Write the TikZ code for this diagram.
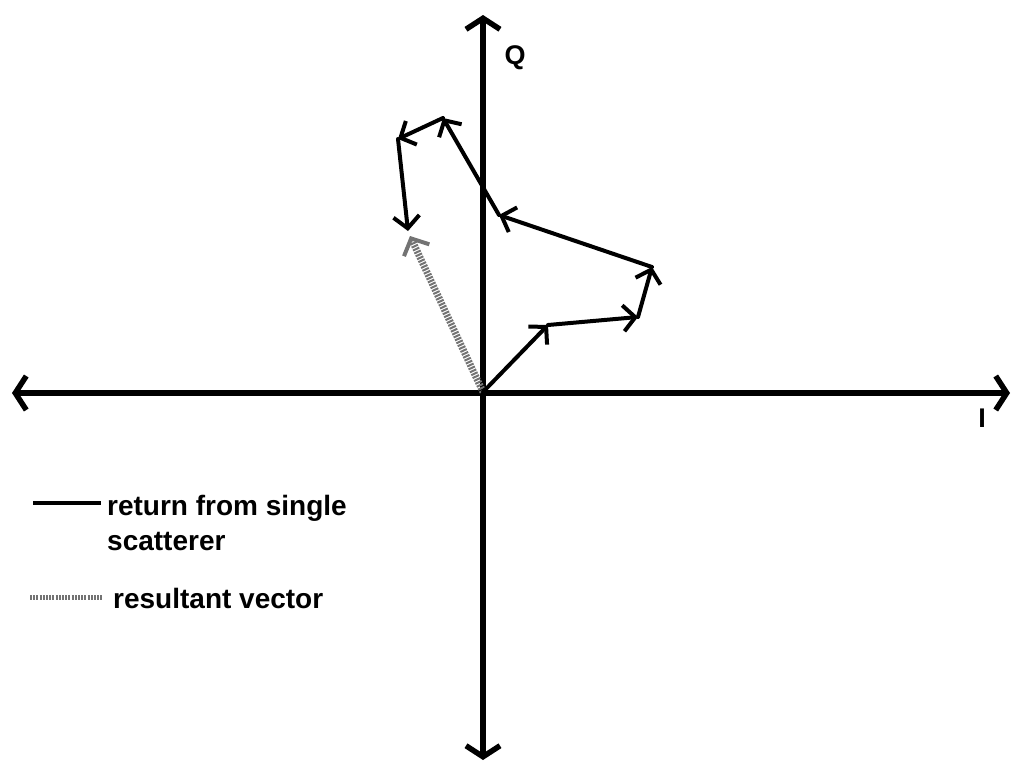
\documentclass[tikz,border=0pt]{standalone}
\usepackage{fontspec}
\setmainfont{Liberation Sans}
\usetikzlibrary{arrows.meta}
\begin{document}
\begin{tikzpicture}[x=1pt,y=-1pt,
  axisline/.style={line width=6.5pt,
    {Straight Barb[length=11pt,width=34pt,line width=5.5pt]}-{Straight Barb[length=11pt,width=34pt,line width=5.5pt]}},
  vec/.style={line width=4pt, line cap=round,
    -{Straight Barb[length=12pt,width=26pt,line width=4pt]}},
  stipple/.style={draw=black!55, dash pattern=on 2pt off 1.2pt},
  resvec/.style={line width=7pt, stipple,
    -{Straight Barb[length=13pt,width=28pt,line width=4pt]}},
  legtext/.style={anchor=base west, inner sep=0pt, font=\bfseries\fontsize{28}{35}\selectfont},
  axlabel/.style={inner sep=0pt, font=\bfseries\fontsize{27}{32}\selectfont}
]
\useasboundingbox (0,0) rectangle (1013,764);
% axes
\coordinate (xl) at (12,393);
\coordinate (xr) at (1010,393);
\coordinate (yt) at (483,15);
\coordinate (yb) at (483,760);
\draw[axisline] (xl) -- (xr);
\draw[axisline] (yb) -- (yt);
\node[axlabel] (Q) at (515,58) {Q};
\node[axlabel] (I) at (982,418) {I};
% vector chain
\coordinate (p0) at (483,392);
\coordinate (p1) at (548,325);
\coordinate (p2) at (638,317);
\coordinate (p3) at (652,267);
\coordinate (p4) at (499,215);
\coordinate (p5) at (443,118);
\coordinate (p6) at (398,139);
\coordinate (p7) at (408,231);
\coordinate (r) at (410,236);
\draw[resvec] (p0) -- (r);
\draw[vec] (p0) -- (p1);
\draw[vec] (p1) -- (p2);
\draw[vec] (p2) -- (p3);
\draw[vec] (p3) -- (p4);
\draw[vec] (p4) -- (p5);
\draw[vec] (p5) -- (p6);
\draw[vec] (p6) -- (p7);
% legend
\coordinate (l1a) at (33,503);
\coordinate (l1b) at (101,503);
\draw[line width=3.5pt] (l1a) -- (l1b);
\node[legtext] (t1) at (107,515) {return from single};
\node[legtext] (t1b) at (107,550) {scatterer};
\coordinate (l2a) at (30,597);
\coordinate (l2b) at (103,597);
\draw[line width=5pt, stipple] (l2a) -- (l2b);
\node[legtext] (t2) at (113,608) {resultant vector};
\end{tikzpicture}
\end{document}
